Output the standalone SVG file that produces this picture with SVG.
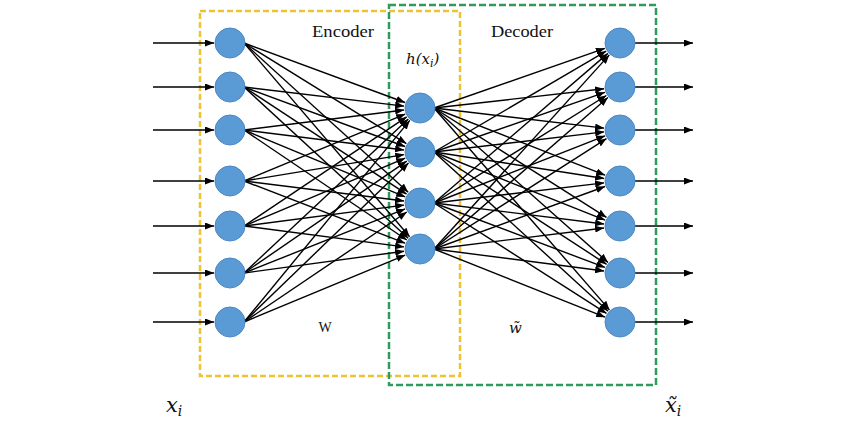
<svg xmlns="http://www.w3.org/2000/svg" width="850" height="430" viewBox="0 0 850 430">
<defs>
<marker id="ah" markerUnits="userSpaceOnUse" markerWidth="9" markerHeight="7" refX="9" refY="3.5" orient="auto">
<path d="M0,0 L9,3.5 L0,7 z" fill="#000"/>
</marker>
<style>
.node{fill:#5B9BD5;stroke:#4A88C4;stroke-width:1}
.e{stroke:#000;stroke-width:1.4;fill:none;marker-end:url(#ah)}
.io{stroke:#000;stroke-width:1.7;fill:none;marker-end:url(#ah)}
.lbl{font-family:"Liberation Serif","DejaVu Serif",serif;fill:#111}
.math{font-family:"DejaVu Serif","Liberation Serif",serif;font-style:italic;fill:#111}
</style>
</defs>
<rect width="850" height="430" fill="#fff"/>
<g id="boxes">
<rect id="encoder-box" x="200" y="11" width="260" height="365" fill="none" stroke="#EDC235" stroke-width="2.5" stroke-dasharray="6,3"/>
<rect id="decoder-box" x="389" y="5" width="267" height="380" fill="none" stroke="#2E9A5E" stroke-width="2.5" stroke-dasharray="7,3"/>
</g>
<g id="connectors">
<line class="io" x1="153" y1="43" x2="214" y2="43"/>
<line class="io" x1="153" y1="87" x2="214" y2="87"/>
<line class="io" x1="153" y1="130" x2="214" y2="130"/>
<line class="io" x1="153" y1="181" x2="214" y2="181"/>
<line class="io" x1="153" y1="226" x2="214" y2="226"/>
<line class="io" x1="153" y1="273" x2="214" y2="273"/>
<line class="io" x1="153" y1="322" x2="214" y2="322"/>
<line class="io" x1="635" y1="43" x2="693" y2="43"/>
<line class="io" x1="635" y1="87" x2="693" y2="87"/>
<line class="io" x1="635" y1="130" x2="693" y2="130"/>
<line class="io" x1="635" y1="181" x2="693" y2="181"/>
<line class="io" x1="635" y1="226" x2="693" y2="226"/>
<line class="io" x1="635" y1="273" x2="693" y2="273"/>
<line class="io" x1="635" y1="322" x2="693" y2="322"/>
<line class="e" x1="244" y1="43" x2="405.0" y2="102.5"/>
<line class="e" x1="244" y1="87" x2="404.1" y2="106.1"/>
<line class="e" x1="244" y1="130" x2="404.1" y2="110.0"/>
<line class="e" x1="244" y1="181" x2="405.2" y2="114.1"/>
<line class="e" x1="244" y1="226" x2="406.7" y2="116.9"/>
<line class="e" x1="244" y1="273" x2="408.3" y2="118.9"/>
<line class="e" x1="244" y1="322" x2="409.8" y2="120.4"/>
<line class="e" x1="244" y1="43" x2="406.4" y2="143.6"/>
<line class="e" x1="244" y1="87" x2="405.0" y2="146.5"/>
<line class="e" x1="244" y1="130" x2="404.1" y2="150.0"/>
<line class="e" x1="244" y1="181" x2="404.2" y2="154.6"/>
<line class="e" x1="244" y1="226" x2="405.2" y2="158.2"/>
<line class="e" x1="244" y1="273" x2="406.8" y2="161.1"/>
<line class="e" x1="244" y1="322" x2="408.5" y2="163.1"/>
<line class="e" x1="244" y1="43" x2="408.2" y2="192.2"/>
<line class="e" x1="244" y1="87" x2="406.6" y2="194.2"/>
<line class="e" x1="244" y1="130" x2="405.2" y2="196.9"/>
<line class="e" x1="244" y1="181" x2="404.1" y2="201.0"/>
<line class="e" x1="244" y1="226" x2="404.1" y2="205.1"/>
<line class="e" x1="244" y1="273" x2="405.1" y2="208.9"/>
<line class="e" x1="244" y1="322" x2="406.8" y2="212.0"/>
<line class="e" x1="244" y1="43" x2="409.6" y2="236.8"/>
<line class="e" x1="244" y1="87" x2="408.2" y2="238.2"/>
<line class="e" x1="244" y1="130" x2="406.8" y2="240.0"/>
<line class="e" x1="244" y1="181" x2="405.1" y2="243.2"/>
<line class="e" x1="244" y1="226" x2="404.1" y2="246.9"/>
<line class="e" x1="244" y1="273" x2="404.1" y2="251.2"/>
<line class="e" x1="244" y1="322" x2="405.2" y2="255.1"/>
<line class="e" x1="434" y1="108" x2="604.9" y2="48.3"/>
<line class="e" x1="434" y1="108" x2="604.1" y2="88.8"/>
<line class="e" x1="434" y1="108" x2="604.1" y2="128.1"/>
<line class="e" x1="434" y1="108" x2="605.1" y2="175.2"/>
<line class="e" x1="434" y1="108" x2="606.5" y2="217.4"/>
<line class="e" x1="434" y1="108" x2="608.0" y2="262.4"/>
<line class="e" x1="434" y1="108" x2="609.5" y2="309.9"/>
<line class="e" x1="434" y1="152" x2="606.2" y2="51.1"/>
<line class="e" x1="434" y1="152" x2="604.9" y2="92.3"/>
<line class="e" x1="434" y1="152" x2="604.1" y2="131.9"/>
<line class="e" x1="434" y1="152" x2="604.2" y2="178.5"/>
<line class="e" x1="434" y1="152" x2="605.1" y2="220.1"/>
<line class="e" x1="434" y1="152" x2="606.6" y2="264.3"/>
<line class="e" x1="434" y1="152" x2="608.2" y2="311.2"/>
<line class="e" x1="434" y1="203" x2="607.9" y2="53.4"/>
<line class="e" x1="434" y1="203" x2="606.4" y2="95.5"/>
<line class="e" x1="434" y1="203" x2="605.1" y2="135.8"/>
<line class="e" x1="434" y1="203" x2="604.1" y2="182.9"/>
<line class="e" x1="434" y1="203" x2="604.1" y2="224.0"/>
<line class="e" x1="434" y1="203" x2="605.0" y2="267.4"/>
<line class="e" x1="434" y1="203" x2="606.5" y2="313.4"/>
<line class="e" x1="434" y1="249" x2="609.3" y2="54.9"/>
<line class="e" x1="434" y1="249" x2="607.9" y2="97.5"/>
<line class="e" x1="434" y1="249" x2="606.5" y2="138.6"/>
<line class="e" x1="434" y1="249" x2="605.0" y2="186.5"/>
<line class="e" x1="434" y1="249" x2="604.1" y2="228.0"/>
<line class="e" x1="434" y1="249" x2="604.1" y2="271.0"/>
<line class="e" x1="434" y1="249" x2="605.1" y2="317.2"/>
</g>
<g id="in1"><circle class="node" cx="230" cy="43" r="15"/></g>
<g id="in2"><circle class="node" cx="230" cy="87" r="15"/></g>
<g id="in3"><circle class="node" cx="230" cy="130" r="15"/></g>
<g id="in4"><circle class="node" cx="230" cy="181" r="15"/></g>
<g id="in5"><circle class="node" cx="230" cy="226" r="15"/></g>
<g id="in6"><circle class="node" cx="230" cy="273" r="15"/></g>
<g id="in7"><circle class="node" cx="230" cy="322" r="15"/></g>
<g id="h1"><circle class="node" cx="420" cy="108" r="15"/></g>
<g id="h2"><circle class="node" cx="420" cy="152" r="15"/></g>
<g id="h3"><circle class="node" cx="420" cy="203" r="15"/></g>
<g id="h4"><circle class="node" cx="420" cy="249" r="15"/></g>
<g id="out1"><circle class="node" cx="620" cy="43" r="15"/></g>
<g id="out2"><circle class="node" cx="620" cy="87" r="15"/></g>
<g id="out3"><circle class="node" cx="620" cy="130" r="15"/></g>
<g id="out4"><circle class="node" cx="620" cy="181" r="15"/></g>
<g id="out5"><circle class="node" cx="620" cy="226" r="15"/></g>
<g id="out6"><circle class="node" cx="620" cy="273" r="15"/></g>
<g id="out7"><circle class="node" cx="620" cy="322" r="15"/></g>
<g id="labels">
<text class="lbl" x="343" y="37" text-anchor="middle" font-size="16" textLength="62" lengthAdjust="spacingAndGlyphs">Encoder</text>
<text class="lbl" x="522" y="37" text-anchor="middle" font-size="16" textLength="62" lengthAdjust="spacingAndGlyphs">Decoder</text>
<text class="math" x="406" y="64" font-size="15">h(x<tspan font-size="11" dy="3">i</tspan><tspan dy="-3">)</tspan></text>
<text class="lbl" x="325" y="332" text-anchor="middle" font-size="14">W</text>
<text class="math" x="509" y="333" font-size="15">w̃</text>
<text class="math" x="166" y="412" font-size="21">x<tspan font-size="14" dy="4">i</tspan></text>
<text class="math" x="665" y="412" font-size="21">x̃<tspan font-size="14" dy="4">i</tspan></text>
</g>
</svg>
